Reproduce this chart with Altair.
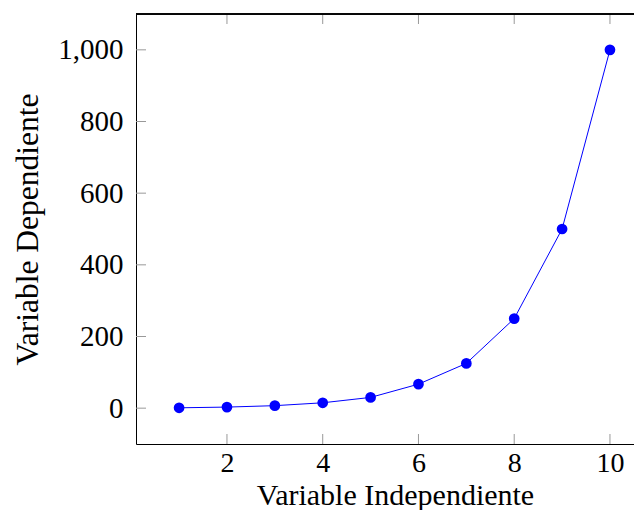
import altair as alt
import pandas as pd

x_vals = [1, 2, 3, 4, 5, 6, 7, 8, 9, 10]
y_vals = [1, 3, 7, 15, 30, 67, 125, 250, 500, 1000]
x_ticks = [2, 4, 6, 8, 10]
y_ticks = [0, 200, 400, 600, 800, 1000]

W, H = 498, 430
FONT = "Liberation Serif"

df = pd.DataFrame({"x": x_vals, "y": y_vals})
xt = pd.DataFrame({"t": x_ticks})
yt = pd.DataFrame({"t": y_ticks})

xscale = alt.Scale(domain=[0.1, 10.502], nice=False, zero=False)
yscale = alt.Scale(domain=[-100, 1100], nice=False, zero=False)

xaxis = alt.Axis(title="Variable Independiente", values=x_ticks, ticks=False, grid=False,
                 domain=True, domainColor="black", labelPadding=5,
                 titleX=259, titleY=60, titleAlign="center", titleBaseline="alphabetic",
                 labelFontSize=28, titleFontSize=30, labelFont=FONT, titleFont=FONT,
                 titleFontWeight="normal", labelColor="black", titleColor="black")
yaxis = alt.Axis(title="Variable Dependiente", values=y_ticks, format=",d", ticks=False, grid=False,
                 domain=True, domainColor="black", labelPadding=13,
                 titleX=-99, titleY=215, titleAlign="center", titleBaseline="alphabetic",
                 titleAngle=270,
                 labelFontSize=29, titleFontSize=31.5, labelFont=FONT, titleFont=FONT,
                 titleFontWeight="normal", labelColor="black", titleColor="black")

line = alt.Chart(df).mark_line(color="#0000ff", strokeWidth=1).encode(
    x=alt.X("x:Q", scale=xscale, axis=xaxis),
    y=alt.Y("y:Q", scale=yscale, axis=yaxis),
)
pts = alt.Chart(df).mark_circle(color="#0000ff", opacity=1, size=115).encode(
    x=alt.X("x:Q", scale=xscale),
    y=alt.Y("y:Q", scale=yscale),
)

tick_color = "#999999"
xt_bottom = alt.Chart(xt).mark_rule(color=tick_color, strokeWidth=1).encode(
    x=alt.X("t:Q", scale=xscale), y=alt.value(H), y2=alt.value(H - 10))
xt_top = alt.Chart(xt).mark_rule(color=tick_color, strokeWidth=1).encode(
    x=alt.X("t:Q", scale=xscale), y=alt.value(0), y2=alt.value(10))
yt_left = alt.Chart(yt).mark_rule(color=tick_color, strokeWidth=1).encode(
    y=alt.Y("t:Q", scale=yscale), x=alt.value(0), x2=alt.value(10))
top_border = alt.Chart(xt).mark_rule(color="black", strokeWidth=1).encode(
    x=alt.value(0), x2=alt.value(W + 5), y=alt.value(0))

chart = alt.layer(xt_bottom, xt_top, yt_left, top_border, line, pts).properties(
    width=W, height=H,
    autosize=alt.AutoSizeParams(type="none"),
    padding={"left": 128, "top": 6, "right": 0, "bottom": 66},
).configure_view(stroke=None)

chart.save("out.html", embed_options={"renderer": "svg", "actions": False})
